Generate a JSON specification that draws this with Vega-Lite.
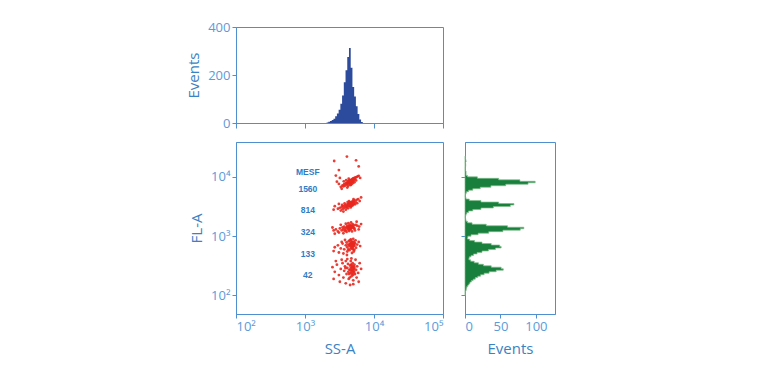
{
  "$schema": "https://vega.github.io/schema/vega-lite/v6.json",
  "padding": {"left": 186, "top": 20, "right": 5, "bottom": 5},
  "config": {
    "font": "Open Sans",
    "view": {"stroke": "#4f8fd0", "strokeWidth": 1},
    "axis": {"grid": false, "domainColor": "#4f8fd0", "tickColor": "#4f8fd0", "labelColor": "#5b9bd8", "titleColor": "#3b82c4", "labelFont": "Open Sans", "titleFont": "Open Sans", "labelFontSize": 13, "titleFontSize": 15, "titleFontWeight": "normal"}
  },
  "datasets": {
    "pts": [
      {"ss":3300,"fl":6800},{"ss":3500,"fl":7200},{"ss":3600,"fl":6900},{"ss":3700,"fl":7500},{"ss":3800,"fl":7100},{"ss":3900,"fl":7800},{"ss":4000,"fl":7400},{"ss":4050,"fl":8000},{"ss":4100,"fl":7600},{"ss":4200,"fl":8200},{"ss":4250,"fl":7900},{"ss":4300,"fl":8400},{"ss":4350,"fl":7700},{"ss":4400,"fl":8100},{"ss":4450,"fl":8600},{"ss":4500,"fl":8300},{"ss":4550,"fl":7900},{"ss":4600,"fl":8800},{"ss":4650,"fl":8500},{"ss":4700,"fl":8200},{"ss":4750,"fl":9000},{"ss":4800,"fl":8700},{"ss":4850,"fl":8400},{"ss":4900,"fl":9200},{"ss":4950,"fl":8900},{"ss":5000,"fl":9400},{"ss":5100,"fl":9100},{"ss":5200,"fl":9600},{"ss":5300,"fl":9300},{"ss":5400,"fl":9800},{"ss":5600,"fl":9900},{"ss":5800,"fl":10200},{"ss":6000,"fl":10400},{"ss":3100,"fl":7600},{"ss":2900,"fl":8300},{"ss":3400,"fl":6300},{"ss":4100,"fl":6600},{"ss":4600,"fl":7300},{"ss":5200,"fl":8100},{"ss":3950,"fl":8800},{"ss":4300,"fl":9300},{"ss":4700,"fl":7500},{"ss":5500,"fl":8700},{"ss":6300,"fl":9600},{"ss":3200,"fl":9600},{"ss":2800,"fl":10500},{"ss":4200,"fl":7000},{"ss":4450,"fl":7350},{"ss":4900,"fl":7800},{"ss":3650,"fl":8400},
      {"ss":4400,"fl":8300},{"ss":4500,"fl":8500},{"ss":4600,"fl":8100},{"ss":4700,"fl":8600},{"ss":4800,"fl":8900},{"ss":4550,"fl":8700},{"ss":4650,"fl":8350},{"ss":4350,"fl":8000},{"ss":4900,"fl":8500},{"ss":5050,"fl":8750},{"ss":4250,"fl":8450},{"ss":4750,"fl":8450},
      {"ss":3000,"fl":2900},{"ss":3200,"fl":3000},{"ss":3400,"fl":3100},{"ss":3500,"fl":2850},{"ss":3600,"fl":3200},{"ss":3700,"fl":3000},{"ss":3800,"fl":3300},{"ss":3900,"fl":3100},{"ss":4000,"fl":3400},{"ss":4100,"fl":3200},{"ss":4200,"fl":3500},{"ss":4300,"fl":3300},{"ss":4400,"fl":3600},{"ss":4450,"fl":3400},{"ss":4500,"fl":3200},{"ss":4600,"fl":3700},{"ss":4700,"fl":3500},{"ss":4800,"fl":3800},{"ss":4900,"fl":3600},{"ss":5000,"fl":3900},{"ss":5100,"fl":3700},{"ss":5200,"fl":4000},{"ss":5400,"fl":3800},{"ss":5600,"fl":4100},{"ss":5900,"fl":4200},{"ss":2700,"fl":3200},{"ss":2600,"fl":2800},{"ss":3100,"fl":3500},{"ss":3300,"fl":2700},{"ss":3900,"fl":2800},{"ss":4200,"fl":2950},{"ss":4600,"fl":3050},{"ss":4900,"fl":3300},{"ss":5300,"fl":3450},{"ss":5700,"fl":3600},{"ss":6200,"fl":3900},{"ss":4150,"fl":3750},{"ss":4350,"fl":3900},{"ss":3750,"fl":3550},{"ss":4050,"fl":3050},{"ss":4550,"fl":3450},{"ss":4750,"fl":3250},{"ss":3450,"fl":3350},{"ss":5050,"fl":4200},{"ss":6500,"fl":4500},{"ss":3600,"fl":2600},
      {"ss":4300,"fl":3450},{"ss":4400,"fl":3250},{"ss":4500,"fl":3550},{"ss":4600,"fl":3350},{"ss":4700,"fl":3650},{"ss":4800,"fl":3450},{"ss":4550,"fl":3300},{"ss":4650,"fl":3550},{"ss":4250,"fl":3350},{"ss":4950,"fl":3500},{"ss":4450,"fl":3700},{"ss":5100,"fl":3500},
      {"ss":2600,"fl":1250},{"ss":2800,"fl":1300},{"ss":3000,"fl":1200},{"ss":3200,"fl":1350},{"ss":3400,"fl":1250},{"ss":3500,"fl":1400},{"ss":3600,"fl":1300},{"ss":3700,"fl":1450},{"ss":3800,"fl":1350},{"ss":3900,"fl":1250},{"ss":4000,"fl":1400},{"ss":4100,"fl":1500},{"ss":4200,"fl":1300},{"ss":4300,"fl":1450},{"ss":4400,"fl":1350},{"ss":4450,"fl":1550},{"ss":4500,"fl":1400},{"ss":4600,"fl":1300},{"ss":4700,"fl":1500},{"ss":4800,"fl":1400},{"ss":4900,"fl":1600},{"ss":5000,"fl":1450},{"ss":5200,"fl":1350},{"ss":5400,"fl":1550},{"ss":5700,"fl":1500},{"ss":6100,"fl":1450},{"ss":6500,"fl":1600},{"ss":2700,"fl":1100},{"ss":3100,"fl":1150},{"ss":3600,"fl":1120},{"ss":4000,"fl":1180},{"ss":4350,"fl":1220},{"ss":4800,"fl":1200},{"ss":5300,"fl":1250},{"ss":3300,"fl":1550},{"ss":3900,"fl":1620},{"ss":4250,"fl":1650},{"ss":4650,"fl":1700},{"ss":5600,"fl":1750},{"ss":4150,"fl":1380},{"ss":4550,"fl":1480},{"ss":3750,"fl":1230},{"ss":5100,"fl":1350},{"ss":4400,"fl":1280},{"ss":2500,"fl":1400},{"ss":6000,"fl":1300},
      {"ss":4300,"fl":1350},{"ss":4400,"fl":1420},{"ss":4500,"fl":1330},{"ss":4600,"fl":1450},{"ss":4700,"fl":1380},{"ss":4800,"fl":1480},{"ss":4550,"fl":1380},{"ss":4650,"fl":1420},{"ss":4200,"fl":1420},{"ss":4950,"fl":1420},{"ss":4350,"fl":1480},{"ss":5050,"fl":1520},
      {"ss":2700,"fl":650},{"ss":3000,"fl":700},{"ss":3300,"fl":620},{"ss":3500,"fl":750},{"ss":3700,"fl":600},{"ss":3900,"fl":700},{"ss":4000,"fl":780},{"ss":4100,"fl":650},{"ss":4200,"fl":720},{"ss":4300,"fl":820},{"ss":4400,"fl":680},{"ss":4500,"fl":750},{"ss":4600,"fl":620},{"ss":4700,"fl":840},{"ss":4750,"fl":700},{"ss":4800,"fl":780},{"ss":4900,"fl":650},{"ss":5000,"fl":730},{"ss":5100,"fl":810},{"ss":5200,"fl":690},{"ss":5300,"fl":760},{"ss":5500,"fl":640},{"ss":5700,"fl":720},{"ss":6000,"fl":800},{"ss":2600,"fl":560},{"ss":3100,"fl":530},{"ss":3600,"fl":510},{"ss":4100,"fl":550},{"ss":4400,"fl":580},{"ss":4800,"fl":520},{"ss":5200,"fl":590},{"ss":4600,"fl":880},{"ss":5000,"fl":900},{"ss":3800,"fl":860},{"ss":4250,"fl":600},{"ss":4650,"fl":690},{"ss":4950,"fl":600},{"ss":5400,"fl":850},{"ss":3400,"fl":800},{"ss":4450,"fl":850},{"ss":5100,"fl":550},{"ss":4050,"fl":480},{"ss":6300,"fl":680},
      {"ss":4550,"fl":700},{"ss":4650,"fl":760},{"ss":4750,"fl":650},{"ss":4850,"fl":720},{"ss":4950,"fl":780},{"ss":5050,"fl":680},{"ss":4600,"fl":730},{"ss":4900,"fl":700},{"ss":4700,"fl":780},{"ss":5150,"fl":740},{"ss":4450,"fl":720},{"ss":4800,"fl":620},
      {"ss":2500,"fl":300},{"ss":2700,"fl":250},{"ss":2900,"fl":330},{"ss":3100,"fl":220},{"ss":3300,"fl":280},{"ss":3500,"fl":350},{"ss":3600,"fl":200},{"ss":3700,"fl":260},{"ss":3800,"fl":310},{"ss":3900,"fl":380},{"ss":4000,"fl":230},{"ss":4100,"fl":290},{"ss":4200,"fl":340},{"ss":4300,"fl":190},{"ss":4400,"fl":270},{"ss":4500,"fl":320},{"ss":4550,"fl":240},{"ss":4600,"fl":380},{"ss":4700,"fl":210},{"ss":4800,"fl":300},{"ss":4850,"fl":260},{"ss":4900,"fl":350},{"ss":5000,"fl":180},{"ss":5100,"fl":280},{"ss":5200,"fl":330},{"ss":5300,"fl":230},{"ss":5400,"fl":400},{"ss":5500,"fl":270},{"ss":5700,"fl":310},{"ss":5900,"fl":240},{"ss":6200,"fl":350},{"ss":6500,"fl":280},{"ss":2600,"fl":190},{"ss":3200,"fl":170},{"ss":3900,"fl":160},{"ss":4500,"fl":150},{"ss":5000,"fl":155},{"ss":4100,"fl":410},{"ss":4700,"fl":420},{"ss":3400,"fl":400},{"ss":4350,"fl":230},{"ss":4750,"fl":270},{"ss":4950,"fl":220},{"ss":5150,"fl":250},{"ss":4450,"fl":200},{"ss":3850,"fl":290},{"ss":5600,"fl":200},{"ss":2800,"fl":380},{"ss":6000,"fl":170},{"ss":4250,"fl":250},
      {"ss":4600,"fl":290},{"ss":4700,"fl":250},{"ss":4800,"fl":320},{"ss":4900,"fl":280},{"ss":5000,"fl":240},{"ss":5100,"fl":310},{"ss":4650,"fl":330},{"ss":4750,"fl":230},{"ss":4950,"fl":300},{"ss":5050,"fl":260},{"ss":4550,"fl":270},{"ss":5200,"fl":290},
      {"ss":2650,"fl":18500},{"ss":4050,"fl":22000},{"ss":5500,"fl":19000},{"ss":3100,"fl":13000},{"ss":6000,"fl":15000}
    ],
    "labels": [
      {"ss":1100,"fl":12100,"t":"MESF"},{"ss":1100,"fl":6300,"t":"1560"},{"ss":1100,"fl":2720,"t":"814"},{"ss":1100,"fl":1160,"t":"324"},{"ss":1100,"fl":508,"t":"133"},{"ss":1100,"fl":219,"t":"42"}
    ],
    "sshist": [
      {"ss":2000,"n":0},{"ss":2113,"n":2},{"ss":2239,"n":5},{"ss":2371,"n":8},{"ss":2512,"n":12},{"ss":2661,"n":18},{"ss":2818,"n":28},{"ss":2985,"n":40},{"ss":3162,"n":55},{"ss":3350,"n":80},{"ss":3548,"n":115},{"ss":3758,"n":170},{"ss":3981,"n":220},{"ss":4217,"n":275},{"ss":4467,"n":312},{"ss":4732,"n":230},{"ss":5012,"n":150},{"ss":5309,"n":110},{"ss":5623,"n":70},{"ss":5957,"n":38},{"ss":6310,"n":15},{"ss":6683,"n":4},{"ss":7079,"n":0}
    ],
    "flhist": [
      {"fl":100,"n":0},{"fl":106,"n":1},{"fl":112,"n":0},{"fl":119,"n":1},{"fl":126,"n":2},{"fl":133,"n":2},{"fl":141,"n":3},{"fl":150,"n":5},{"fl":158,"n":6},{"fl":168,"n":8},{"fl":178,"n":10},{"fl":188,"n":13},{"fl":200,"n":16},{"fl":211,"n":20},{"fl":224,"n":24},{"fl":237,"n":30},{"fl":251,"n":38},{"fl":266,"n":50},{"fl":282,"n":58},{"fl":299,"n":44},{"fl":316,"n":30},{"fl":335,"n":22},{"fl":355,"n":16},{"fl":376,"n":10},{"fl":398,"n":6},{"fl":422,"n":5},{"fl":447,"n":7},{"fl":473,"n":10},{"fl":501,"n":14},{"fl":531,"n":20},{"fl":562,"n":28},{"fl":596,"n":38},{"fl":631,"n":48},{"fl":668,"n":54},{"fl":708,"n":44},{"fl":750,"n":30},{"fl":794,"n":18},{"fl":841,"n":9},{"fl":891,"n":4},{"fl":944,"n":3},{"fl":1000,"n":5},{"fl":1059,"n":12},{"fl":1122,"n":25},{"fl":1189,"n":42},{"fl":1259,"n":65},{"fl":1334,"n":91},{"fl":1413,"n":75},{"fl":1496,"n":45},{"fl":1585,"n":15},{"fl":1679,"n":5},{"fl":1778,"n":2},{"fl":1884,"n":1},{"fl":1995,"n":1},{"fl":2113,"n":0},{"fl":2239,"n":1},{"fl":2371,"n":2},{"fl":2512,"n":3},{"fl":2661,"n":7},{"fl":2818,"n":15},{"fl":2985,"n":30},{"fl":3162,"n":50},{"fl":3350,"n":78},{"fl":3548,"n":60},{"fl":3758,"n":35},{"fl":3981,"n":10},{"fl":4217,"n":2},{"fl":4467,"n":1},{"fl":4732,"n":0},{"fl":5012,"n":1},{"fl":5309,"n":1},{"fl":5623,"n":3},{"fl":5957,"n":7},{"fl":6310,"n":15},{"fl":6683,"n":28},{"fl":7079,"n":45},{"fl":7499,"n":70},{"fl":7943,"n":108},{"fl":8414,"n":90},{"fl":8913,"n":65},{"fl":9441,"n":30},{"fl":10000,"n":5},{"fl":10593,"n":2},{"fl":11220,"n":1},{"fl":11885,"n":2},{"fl":12589,"n":1},{"fl":13335,"n":0},{"fl":14125,"n":1},{"fl":14962,"n":0},{"fl":15849,"n":2},{"fl":16788,"n":0},{"fl":17783,"n":1},{"fl":18836,"n":2},{"fl":19953,"n":0},{"fl":21135,"n":1},{"fl":22387,"n":0}
    ]
  },
  "bounds": "flush",
  "spacing": 19,
  "vconcat": [
    {
      "width": 207, "height": 96,
      "data": {"name": "sshist"},
      "mark": {"type": "area", "interpolate": "step", "color": "#2d4b9c"},
      "encoding": {
        "x": {"field": "ss", "type": "quantitative", "scale": {"type": "log", "domain": [100, 100000], "nice": false},
              "axis": {"values": [100, 1000, 10000, 100000], "labels": false, "title": null, "tickSize": 5}},
        "y": {"field": "n", "type": "quantitative", "scale": {"domain": [0, 400], "nice": false},
              "axis": {"values": [0, 200, 400], "title": "Events", "tickSize": 4, "titlePadding": 6}}
      }
    },
    {
      "bounds": "flush",
      "spacing": 22,
      "hconcat": [
        {
          "width": 207, "height": 172,
          "layer": [
            {
              "data": {"name": "pts"},
              "mark": {"type": "circle", "size": 8, "color": "#e8281f", "opacity": 0.9},
              "encoding": {
                "x": {"field": "ss", "type": "quantitative", "scale": {"type": "log", "domain": [100, 100000], "nice": false},
                      "axis": {"values": [100, 1000, 10000, 100000], "title": "SS-A", "tickSize": 4, "labelExpr": "'10' + ['⁰','¹','²','³','⁴','⁵'][round(log(datum.value)/LN10)]", "titlePadding": 8}},
                "y": {"field": "fl", "type": "quantitative", "scale": {"type": "log", "domain": [48.6, 38730], "nice": false},
                      "axis": {"values": [100, 1000, 10000], "title": "FL-A", "tickSize": 4, "labelExpr": "'10' + ['⁰','¹','²','³','⁴','⁵'][round(log(datum.value)/LN10)]", "titlePadding": 6}}
              }
            },
            {
              "data": {"name": "labels"},
              "mark": {"type": "text", "font": "Liberation Sans", "fontWeight": "bold", "fontSize": 8.5, "color": "#2f7cc4"},
              "encoding": {
                "x": {"field": "ss", "type": "quantitative"},
                "y": {"field": "fl", "type": "quantitative"},
                "text": {"field": "t"}
              }
            }
          ]
        },
        {
          "width": 90, "height": 172,
          "data": {"name": "flhist"},
          "mark": {"type": "area", "orient": "horizontal", "interpolate": "step", "color": "#18803c", "stroke": "#7dbb86", "strokeWidth": 0.7},
          "encoding": {
            "y": {"field": "fl", "type": "quantitative", "scale": {"type": "log", "domain": [48.6, 38730], "nice": false},
                  "axis": {"values": [100, 1000, 10000], "labels": false, "title": null, "tickSize": 4}},
            "x": {"field": "n", "type": "quantitative", "scale": {"domain": [0, 127], "nice": false},
                  "axis": {"values": [0, 50, 100], "title": "Events", "tickSize": 4, "titlePadding": 8}}
          }
        }
      ]
    }
  ]
}
